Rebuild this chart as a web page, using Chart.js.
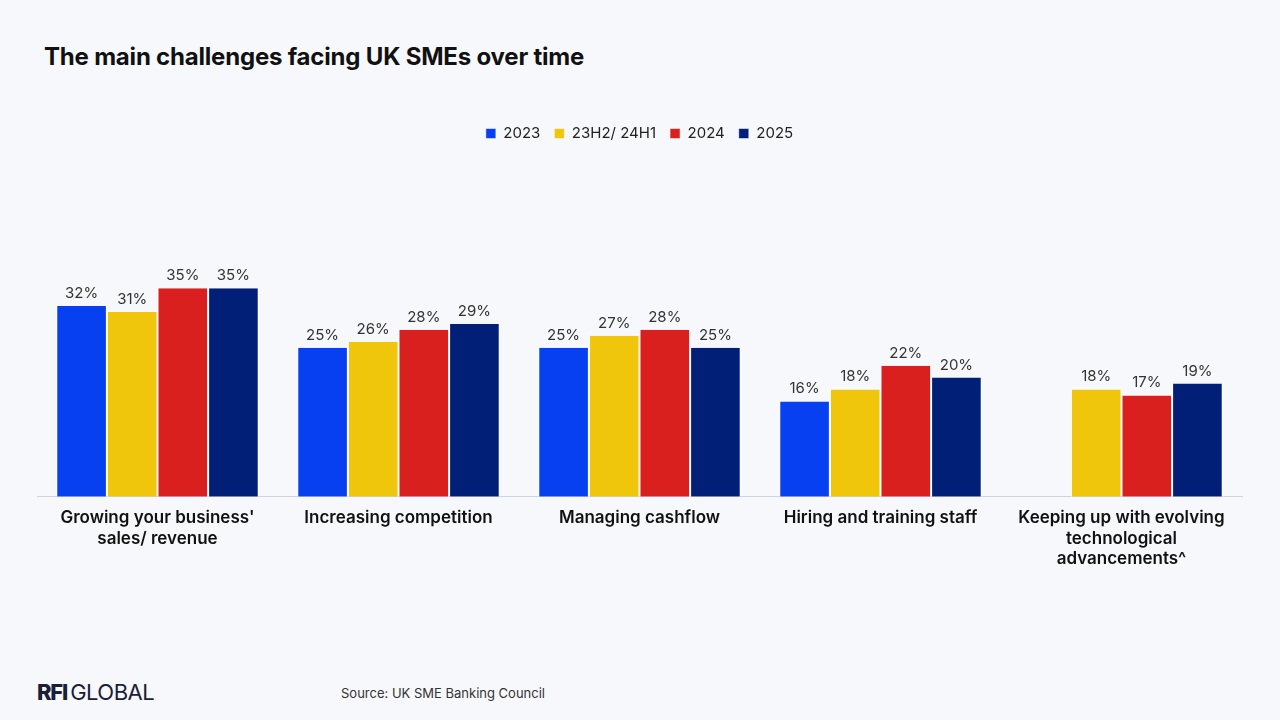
<!DOCTYPE html>
<html>
<head>
<meta charset="utf-8">
<script src="https://cdn.jsdelivr.net/npm/chart.js@4/dist/chart.umd.min.js"></script>
<style>
  html, body { margin: 0; padding: 0; background: #f7f8fc; }
  body { width: 1280px; height: 720px; position: relative; overflow: hidden; font-family: "Inter", "Lato", sans-serif; }
  #title { position: absolute; left: 44px; top: 42px; font-size: 24px; font-weight: 700; color: #111; letter-spacing: -0.2px; }
  #wrap { position: absolute; left: 0; top: 112px; width: 1280px; height: 460px; }
  #logo { position: absolute; left: 37px; top: 679px; font-size: 22px; color: #1a2035; letter-spacing: -0.5px; }
  #logo b { font-weight: 800; letter-spacing: -1.2px; margin-right: 3px; }
  #source { position: absolute; left: 341px; top: 685px; font-size: 13px; color: #333; }
</style>
</head>
<body>
<div id="title">The main challenges facing UK SMEs over time</div>
<div id="wrap"><canvas id="chart"></canvas></div>
<div id="logo"><b>RFI</b>GLOBAL</div>
<div id="source">Source: UK SME Banking Council</div>
<script>
const categories = [
    ["Growing your business'", "sales/ revenue"],
    "Increasing competition",
    "Managing cashflow",
    "Hiring and training staff",
    ["Keeping up with evolving", "technological", "advancements^"]
];
const seriesNames = ["2023", "23H2/ 24H1", "2024", "2025"];
const values2023 = [32, 25, 25, 16, null];
const valuesH = [31, 26, 27, 18, 18];
const values2024 = [35, 28, 28, 22, 17];
const values2025 = [35, 29, 25, 20, 19];
const colors = ['#0640f0', '#efc60c', '#da1f1f', '#021f77'];

const valueLabels = {
    id: 'valueLabels',
    afterDatasetsDraw(chart) {
        const ctx = chart.ctx;
        ctx.save();
        ctx.font = '15px "Inter", sans-serif';
        ctx.fillStyle = '#333';
        ctx.textAlign = 'center';
        ctx.textBaseline = 'bottom';
        chart.data.datasets.forEach((ds, i) => {
            chart.getDatasetMeta(i).data.forEach((bar, j) => {
                if (ds.data[j] == null) return;
                ctx.fillText(ds.data[j] + '%', bar.x, bar.y - 5);
            });
        });
        ctx.restore();
    }
};

const allSeries = [values2023, valuesH, values2024, values2025];

new Chart(document.getElementById('chart'), {
    type: 'bar',
    data: {
        labels: categories,
        datasets: allSeries.map((vals, i) => ({
            label: seriesNames[i],
            data: vals,
            backgroundColor: colors[i],
            borderColor: '#ffffff',
            borderWidth: { left: 1, right: 1 },
            borderSkipped: false,
            categoryPercentage: 0.84,
            barPercentage: 1
        }))
    },
    options: {
        responsive: true,
        maintainAspectRatio: false,
        animation: false,
        layout: { padding: { left: 37, right: 38, top: 0, bottom: 0 } },
        plugins: {
            legend: {
                position: 'top',
                labels: {
                    boxWidth: 10,
                    boxHeight: 10,
                    padding: 14,
                    color: '#222',
                    font: { size: 15, family: 'Inter' }
                }
            },
            tooltip: { enabled: false }
        },
        scales: {
            y: {
                display: false,
                min: 0,
                max: 58
            },
            x: {
                grid: { display: false },
                border: { color: '#cfd3e0', width: 1 },
                ticks: {
                    color: '#111',
                    padding: 3,
                    font: { size: 17, weight: '600', family: 'Inter', lineHeight: 1.2 },
                    maxRotation: 0
                }
            }
        }
    },
    plugins: [valueLabels]
});
</script>
</body>
</html>
